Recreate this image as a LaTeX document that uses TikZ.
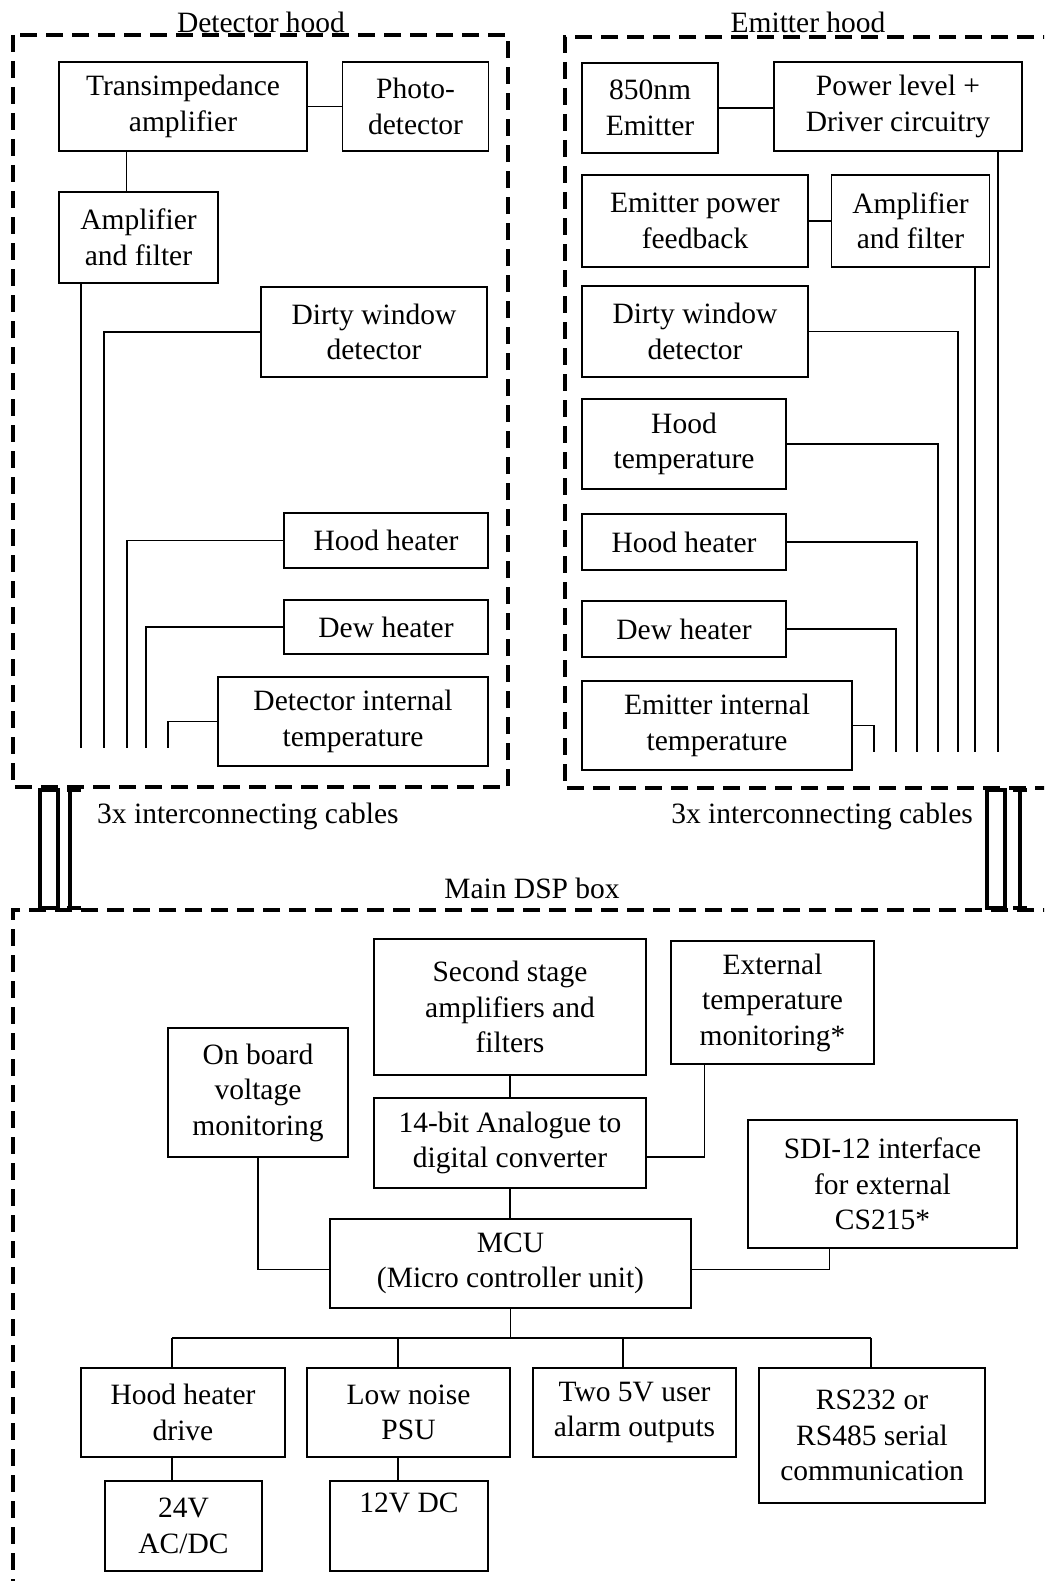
\documentclass[tikz,border=0pt]{standalone}
\usepackage{fontspec}
\setmainfont{Liberation Serif}
\usetikzlibrary{positioning, calc}

\begin{document}
\begin{tikzpicture}[x=1pt, y=-1pt,
    box/.style={rectangle, draw, line width=1.5pt, align=center, inner sep=0pt, font=\fontsize{29.5}{35.5}\selectfont},
    wire/.style={line width=1.3pt},
    hood/.style={line width=4pt, dash pattern=on 17pt off 9pt},
    cable/.style={line width=4.5pt},
    boxtitle/.style={font=\fontsize{29.5}{35.5}\selectfont, inner sep=0pt}
]
\useasboundingbox (0,0) rectangle (1044,1581);
\clip (0,0) rectangle (1044,1581);

% Hood and box outlines
\draw[hood] (13,35) rectangle (508,787);
\draw[hood] (1060,37) -| (565,788) -- (1060,788);
\draw[hood] (1060,910) -| (13,1600);

\node[boxtitle, anchor=base] (dhlabel) at (261,33) {Detector hood};
\node[boxtitle, anchor=base] (ehlabel) at (808,33) {Emitter hood};
\node[boxtitle, anchor=base] (dsplabel) at (532,898) {Main DSP box};

% Interconnecting cables
\node[boxtitle, anchor=base west] (cabl) at (97,823) {3x interconnecting cables};
\node[boxtitle, anchor=base east] (cabr) at (973,823) {3x interconnecting cables};
\draw[cable] (40,790) rectangle (58,908);
\draw[cable] (67,790) -- (81,790) (70,790) -- (70,908) (67,908) -- (81,908);
\draw[cable] (987,790) rectangle (1005,908);
\draw[cable] (1013,790) -- (1027,790) (1020,790) -- (1020,908) (1013,908) -- (1027,908);

% Detector hood
\node[box, minimum width=248pt, minimum height=89pt] (tia) at (183,106.5) {Transimpedance\\amplifier};
\node[box, minimum width=146pt, minimum height=89pt, right=34pt of tia] (pd) {Photo-\\detector};
\node[box, minimum width=159pt, minimum height=91pt] (damp) at (138.5,237.5) {Amplifier\\and filter};
\node[box, minimum width=226pt, minimum height=90pt] (ddirty) at (374,332) {Dirty window\\detector};
\node[box, minimum width=204pt, minimum height=55pt] (dhh) at (386,540.5) {Hood heater};
\node[box, minimum width=204pt, minimum height=54pt] (ddew) at (386,627) {Dew heater};
\node[box, minimum width=270pt, minimum height=89pt] (dtemp) at (353,721.5) {Detector internal\\temperature};

\foreach \n/\x in {1/81, 2/104, 3/127, 4/146, 5/168}
    \coordinate (dl\n) at (\x,748);

\draw[wire] (tia) -- (pd);
\draw[wire] ([xshift=68pt]tia.south west) -- ([xshift=68pt]tia.south west |- damp.north);
\draw[wire] (damp.south -| dl1) -- (dl1);
\draw[wire] (ddirty.west) -| (dl2);
\draw[wire] (dhh.west) -| (dl3);
\draw[wire] (ddew.west) -| (dl4);
\draw[wire] (dtemp.west) -| (dl5);

% Emitter hood
\node[box, minimum width=136pt, minimum height=90pt] (em) at (650,108) {850nm\\Emitter};
\node[box, minimum width=248pt, minimum height=89pt] (drv) at (898,106.5) {Power level +\\Driver circuitry};
\node[box, minimum width=226pt, minimum height=92pt] (efb) at (695,221) {Emitter power\\feedback};
\node[box, minimum width=158pt, minimum height=92pt, right=22pt of efb] (eamp) {Amplifier\\and filter};
\node[box, minimum width=226pt, minimum height=91pt] (edirty) at (695,331.5) {Dirty window\\detector};
\node[box, minimum width=204pt, minimum height=90pt] (ehtemp) at (684,444) {Hood\\temperature};
\node[box, minimum width=204pt, minimum height=56pt] (ehh) at (684,542) {Hood heater};
\node[box, minimum width=204pt, minimum height=56pt] (edew) at (684,629) {Dew heater};
\node[box, minimum width=270pt, minimum height=89pt] (etemp) at (717,725.5) {Emitter internal\\temperature};

\foreach \n/\x in {1/874, 2/896, 3/917, 4/938, 5/958, 6/975, 7/998}
    \coordinate (el\n) at (\x,752);

\draw[wire] (em.east) -- (em.east -| drv.west);
\draw[wire] (efb) -- (eamp);
\draw[wire] (etemp.east) -| (el1);
\draw[wire] (edew.east) -| (el2);
\draw[wire] (ehh.east) -| (el3);
\draw[wire] (ehtemp.east) -| (el4);
\draw[wire] (edirty.east) -| (el5);
\draw[wire] (eamp.south -| el6) -- (el6);
\draw[wire] (drv.south -| el7) -- (el7);

% Main DSP box
\node[box, minimum width=272pt, minimum height=136pt] (sec) at (510,1007) {Second stage\\amplifiers and\\filters};
\node[box, minimum width=203pt, minimum height=123pt] (ext) at (772.5,1002.5) {External\\temperature\\monitoring*};
\node[box, minimum width=180pt, minimum height=129pt] (obv) at (258,1092.5) {On board\\voltage\\monitoring};
\node[box, minimum width=272pt, minimum height=90pt] (adc) at (510,1143) {14-bit Analogue to\\digital converter};
\node[box, minimum width=269pt, minimum height=128pt] (sdi) at (882.5,1184) {SDI-12 interface\\for external\\CS215*};
\node[box, minimum width=361pt, minimum height=89pt] (mcu) at (510.5,1263.5) {MCU\\(Micro controller unit)};
\node[box, minimum width=204pt, minimum height=89pt] (hhd) at (183,1412.5) {Hood heater\\drive};
\node[box, minimum width=203pt, minimum height=89pt] (psu) at (408.5,1412.5) {Low noise\\PSU};
\node[box, minimum width=203pt, minimum height=89pt] (alarm) at (634.5,1412.5) {Two 5V user\\alarm outputs};
\node[box, minimum width=226pt, minimum height=135pt] (rs) at (872,1435.5) {RS232 or\\RS485 serial\\communication};
\node[box, minimum width=157pt, minimum height=90pt] (v24) at (183.5,1526) {24V\\AC/DC};
\node[box, minimum width=158pt, minimum height=90pt] (v12) at (409,1526) {12V DC\\ \strut};

\foreach \n/\x in {1/172, 2/398, 3/623, 4/871}
    \coordinate (bus\n) at (\x,1338);

\draw[wire] (sec) -- (adc);
\draw[wire] (adc.south) -- (adc.south |- mcu.north);
\draw[wire] ([xshift=34pt]ext.south west) |- ([yshift=-14pt]adc.east);
\draw[wire] (obv.south) |- ([yshift=-6pt]mcu.west);
\draw[wire] ([xshift=82pt]sdi.south west) |- ([yshift=-6pt]mcu.east);
\draw[wire] (mcu.south) -- (mcu.south |- bus1);
\draw[wire] (bus1) -- (bus4);
\draw[wire] (bus1) -- (bus1 |- hhd.north);
\draw[wire] (bus2) -- (bus2 |- psu.north);
\draw[wire] (bus3) -- (bus3 |- alarm.north);
\draw[wire] (bus4) -- (bus4 |- rs.north);
\draw[wire] (bus1 |- hhd.south) -- (bus1 |- v24.north);
\draw[wire] (bus2 |- psu.south) -- (bus2 |- v12.north);
\end{tikzpicture}
\end{document}
